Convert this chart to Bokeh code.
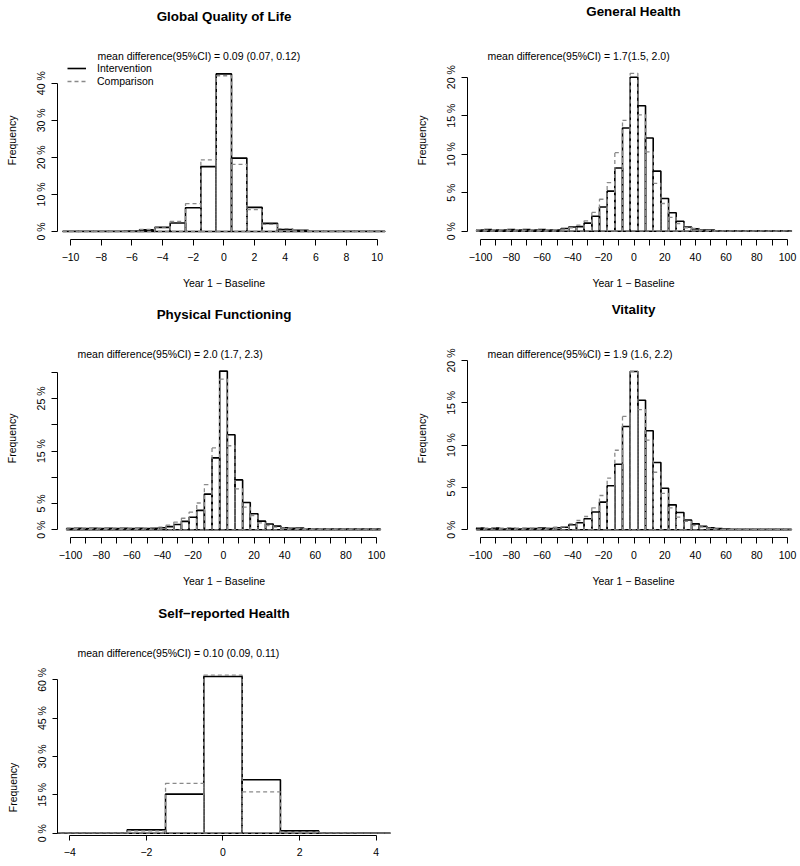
from bokeh.plotting import figure
from bokeh.models import Range1d, FixedTicker, Label, Legend, LegendItem
from bokeh.layouts import column, row
from bokeh.embed import file_html
from bokeh.resources import INLINE

FONT = "Liberation Sans"
MINUS = "\u2212"
NBSP = "\u00a0"

# ---------------- data (percent of participants per bin) ----------------
qol_bins = list(range(-10, 11))
qol_int = [0.05, 0.05, 0.05, 0.05, 0.1, 0.45, 1.1, 2.3, 6.4, 17.5, 42.5,
           19.8, 6.5, 2.2, 0.55, 0.3, 0.05, 0.05, 0.05, 0.05, 0.05]
qol_cmp = [0.05, 0.05, 0.05, 0.05, 0.1, 0.55, 1.2, 2.7, 7.5, 19.3, 42.0,
           18.1, 5.9, 1.9, 0.75, 0.45, 0.05, 0.05, 0.05, 0.05, 0.05]

gh_bins = list(range(-100, 101, 5))
gh_int = [0.15, 0.2, 0.15, 0.15, 0.2, 0.15, 0.2, 0.15, 0.2, 0.15, 0.15, 0.35,
          0.55, 0.6, 1.05, 1.95, 3.15, 5.2, 8.2, 13.4, 20.0, 16.3, 12.1, 7.8,
          4.25, 2.4, 1.3, 0.55, 0.3, 0.15, 0.15, 0.05, 0.05, 0.05, 0.05, 0.05,
          0.05, 0.05, 0.05, 0.05, 0.05]
gh_cmp = [0.2, 0.15, 0.2, 0.2, 0.15, 0.2, 0.15, 0.2, 0.15, 0.2, 0.2, 0.25,
          0.45, 0.8, 1.35, 2.45, 4.15, 6.3, 10.2, 14.4, 20.5, 15.1, 10.3, 6.2,
          3.6, 1.8, 1.0, 0.45, 0.35, 0.15, 0.1, 0.05, 0.05, 0.05, 0.05, 0.05,
          0.05, 0.05, 0.05, 0.05, 0.05]

pf_bins = list(range(-100, 101, 5))
pf_int = [0.25, 0.3, 0.25, 0.3, 0.25, 0.3, 0.25, 0.3, 0.25, 0.3, 0.25, 0.3,
          0.4, 0.6, 1.0, 1.6, 2.4, 3.7, 6.8, 13.7, 30.2, 18.1, 9.5, 5.2,
          3.05, 1.65, 1.1, 0.7, 0.4, 0.3, 0.35, 0.2, 0.15, 0.15, 0.15, 0.15,
          0.15, 0.15, 0.15, 0.15, 0.15]
pf_cmp = [0.3, 0.25, 0.3, 0.25, 0.3, 0.25, 0.3, 0.25, 0.3, 0.25, 0.3, 0.35,
          0.5, 0.9, 1.45, 2.2, 3.35, 5.1, 8.6, 15.6, 28.7, 16.0, 7.8, 4.3,
          2.7, 1.3, 0.8, 0.5, 0.35, 0.3, 0.25, 0.2, 0.15, 0.15, 0.15, 0.15,
          0.15, 0.15, 0.15, 0.15, 0.15]

vt_bins = list(range(-100, 101, 5))
vt_int = [0.2, 0.1, 0.2, 0.1, 0.15, 0.1, 0.15, 0.15, 0.2, 0.15, 0.25, 0.3,
          0.6, 0.83, 1.3, 2.1, 3.27, 5.2, 7.75, 12.2, 18.7, 15.3, 11.7, 7.95,
          4.9, 2.95, 2.05, 1.15, 0.7, 0.4, 0.25, 0.15, 0.1, 0.05, 0.05, 0.05,
          0.05, 0.05, 0.05, 0.05, 0.05]
vt_cmp = [0.25, 0.2, 0.25, 0.2, 0.25, 0.2, 0.2, 0.2, 0.15, 0.2, 0.3, 0.35,
          0.7, 1.1, 1.57, 2.6, 4.05, 6.1, 9.4, 13.4, 18.7, 14.2, 10.6, 6.8,
          4.3, 2.6, 1.5, 1.0, 0.5, 0.35, 0.2, 0.1, 0.05, 0.05, 0.05, 0.05,
          0.05, 0.05, 0.05, 0.05, 0.05]

sr_bins = list(range(-4, 5))
sr_int = [0.05, 0.1, 1.3, 15.3, 61.3, 20.9, 0.9, 0.1, 0.05]
sr_cmp = [0.1, 0.1, 0.9, 19.5, 61.8, 16.2, 0.5, 0.1, 0.05]

# tick values
qol_xticks = list(range(-10, 11, 2))
wide_xticks = list(range(-100, 101, 10))
wide_xlabelled = list(range(-100, 101, 20))
sr_xticks = list(range(-4, 5, 2))
qol_yticks = [0, 10, 20, 30, 40]
gh_yticks = [0, 5, 10, 15, 20]
pf_yticks = [0, 5, 10, 15, 20, 25, 30]
pf_ylabelled = [0, 5, 15, 25]
vt_yticks = [0, 5, 10, 15, 20]
sr_yticks = [0, 15, 30, 45, 60]

titles = ["Global Quality of Life", "General Health", "Physical Functioning",
          "Vitality", "Self\u2212reported Health"]
mean_texts = ["mean difference(95%CI) = 0.09 (0.07, 0.12)",
              "mean difference(95%CI) = 1.7(1.5, 2.0)",
              "mean difference(95%CI) = 2.0 (1.7, 2.3)",
              "mean difference(95%CI) = 1.9 (1.6, 2.2)",
              "mean difference(95%CI) = 0.10 (0.09, 0.11)"]
series_names = ["Intervention", "Comparison"]
y_label, x_label = "Frequency", "Year 1 \u2212 Baseline"

INT_COLOR, CMP_COLOR = "black", "#8a8a8a"


def fmt_num(v):
    return (MINUS + str(abs(v))) if v < 0 else str(v)


def make_panel(title, bins, bw, ivals, cvals, xr, y0, px_per_pct, xticks,
               xlabelled, yticks, ylabelled, mtext, mpos, fw, fh, mb,
               title_px, ylab_pad, xlabel=True, legend=False, tick_out=6,
               lab_std=7):
    # frame spans from the top of the figure down to the x axis
    frame_h = fh - mb[2] - mb[3]
    y1 = y0 + frame_h / px_per_pct
    p = figure(width=fw, height=fh, x_range=Range1d(*xr), y_range=Range1d(y0, y1),
               output_backend="svg", toolbar_location=None,
               min_border_left=mb[0], min_border_right=mb[1],
               min_border_top=mb[2], min_border_bottom=mb[3],
               outline_line_color=None, background_fill_color="white",
               border_fill_color="white")
    p.xgrid.visible = False
    p.ygrid.visible = False

    # panel title (bold, centred over the plotting region)
    p.add_layout(Label(x=(xr[0] + xr[1]) / 2,
                       y=y1 - (title_px - mb[2]) / px_per_pct,
                       text=title, text_font=FONT, text_font_size="13.4px",
                       text_font_style="bold", text_color="black",
                       text_align="center", text_baseline="middle"))

    left = [b - bw / 2 for b in bins]
    right = [b + bw / 2 for b in bins]
    bottom = [0] * len(bins)
    p.quad(left=left, right=right, bottom=bottom, top=ivals,
           fill_color=None, line_color=INT_COLOR, line_width=1.6)
    p.quad(left=left, right=right, bottom=bottom, top=cvals,
           fill_color=None, line_color=CMP_COLOR, line_width=1.3,
           line_dash="4 3")

    xa = p.xaxis[0]
    xa.ticker = FixedTicker(ticks=xticks)
    xa.bounds = (min(xticks), max(xticks))
    xa.major_label_overrides = {t: (fmt_num(t) if t in xlabelled else "")
                                for t in xticks}
    ya = p.yaxis[0]
    ya.ticker = FixedTicker(ticks=yticks)
    ya.bounds = (min(yticks), max(yticks))
    ya.major_label_overrides = {t: (f"{t} %" if t in ylabelled else "")
                                for t in yticks}
    ya.major_label_orientation = "vertical"
    # trailing no-break spaces move the visible word down toward the data
    ya.axis_label = y_label + NBSP * ylab_pad
    if xlabel:
        xa.axis_label = x_label
    for ax in (xa, ya):
        ax.minor_tick_line_color = None
        ax.major_tick_in = 0
        ax.major_tick_out = tick_out
        ax.axis_line_color = "black"
        ax.major_tick_line_color = "black"
        ax.major_label_text_font = FONT
        ax.major_label_text_font_size = "10.5px"
        ax.major_label_text_color = "black"
        ax.axis_label_text_font = FONT
        ax.axis_label_text_font_size = "10.5px"
        ax.axis_label_text_font_style = "normal"
        ax.axis_label_text_color = "black"
    xa.major_label_standoff = lab_std
    xa.axis_label_standoff = 13
    ya.major_label_standoff = 4
    ya.axis_label_standoff = 15

    p.add_layout(Label(x=mpos[0], y=mpos[1], text=mtext, text_font=FONT,
                       text_font_size="10.5px", text_baseline="middle",
                       text_align="left", text_color="black"))

    if legend:
        nan = float("nan")
        l1 = p.line(x=[nan], y=[nan], line_color=INT_COLOR, line_width=1.6)
        l2 = p.line(x=[nan], y=[nan], line_color=CMP_COLOR, line_width=1.3,
                    line_dash="4 3")
        lg = Legend(items=[LegendItem(label=series_names[0], renderers=[l1]),
                           LegendItem(label=series_names[1], renderers=[l2])],
                    location=(10, 152), padding=0, margin=0, spacing=1,
                    glyph_width=19, glyph_height=12, label_height=12,
                    label_standoff=11, border_line_color=None,
                    background_fill_alpha=0, label_text_font=FONT,
                    label_text_font_size="10.5px", label_text_color="black")
        p.add_layout(lg, "center")
    return p


W = 400
H12, H3 = 298, 270
MB_L = (57, 10, 0, 59)
MB_R = (67, 1, 0, 59)

p1 = make_panel(titles[0], qol_bins, 1, qol_int, qol_cmp, (-10.85, 10.87),
                -2.157, 3.708, qol_xticks, qol_xticks, qol_yticks, qol_yticks,
                mean_texts[0], (-8.24, 47.28), W, H12, MB_L, 16, 14, legend=True)
p2 = make_panel(titles[1], gh_bins, 5, gh_int, gh_cmp, (-108.47, 107.8),
                -1.078, 7.70, wide_xticks, wide_xlabelled, gh_yticks, gh_yticks,
                mean_texts[1], (-95.44, 22.73), W, H12, MB_R, 11, 14)
p3 = make_panel(titles[2], pf_bins, 5, pf_int, pf_cmp, (-108.5, 109.15),
                -1.466, 5.253, wide_xticks, wide_xlabelled, pf_yticks, pf_ylabelled,
                mean_texts[2], (-95.42, 33.5), W, H12, MB_L, 16, 14)
p4 = make_panel(titles[3], vt_bins, 5, vt_int, vt_cmp, (-108.47, 107.8),
                -0.910, 8.465, wide_xticks, wide_xlabelled, vt_yticks, vt_yticks,
                mean_texts[3], (-95.44, 20.79), W, H12, MB_R, 11, 14)
p5 = make_panel(titles[4], sr_bins, 1, sr_int, sr_cmp, (-4.321, 4.374),
                -0.9, 2.557, sr_xticks, sr_xticks, sr_yticks, sr_yticks,
                mean_texts[4], (-3.8, 70.4), W, H3, (57, 10, 0, 31), 17, 49,
                xlabel=False, tick_out=5, lab_std=7)

layout = column(row(p1, p2), row(p3, p4), row(p5))
open("out.html", "w").write(file_html(layout, INLINE))
